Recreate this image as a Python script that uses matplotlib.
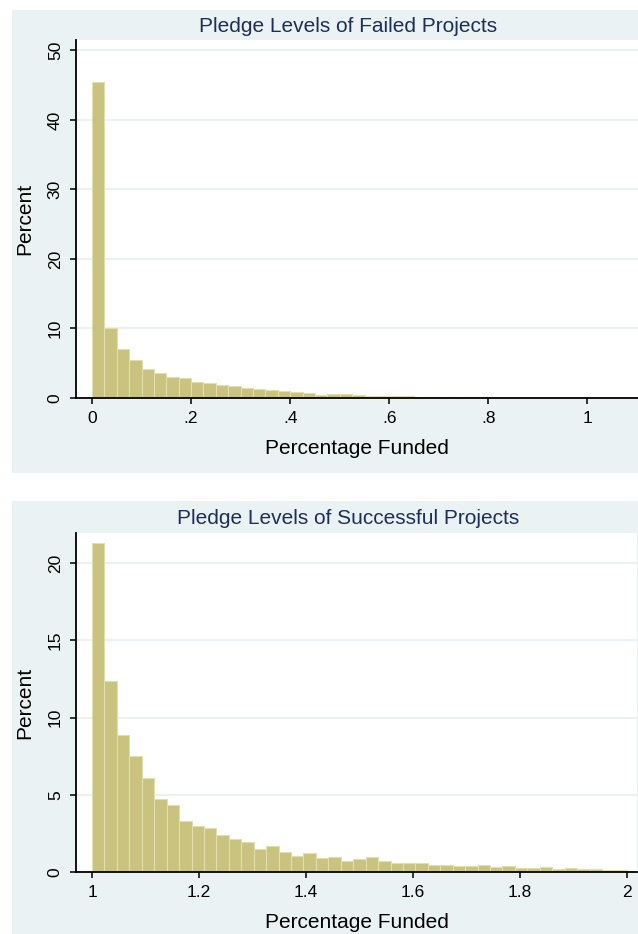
import numpy as np
import matplotlib
matplotlib.use("Agg")
import matplotlib.pyplot as plt
from matplotlib.patches import Rectangle

plt.rcParams['font.family'] = ['Liberation Sans', 'DejaVu Sans']

# histogram data (percent per bin)
failed_start = 0.0
failed_width = 0.025
failed_pct = [45.5, 10.1, 7.1, 5.4, 4.2, 3.55, 3.0, 2.9, 2.3, 2.1,
              1.8, 1.7, 1.4, 1.25, 1.1, 1.0, 0.85, 0.7, 0.45, 0.6,
              0.55, 0.42, 0.3, 0.28, 0.26, 0.22, 0.2, 0.17, 0.16, 0.15,
              0.14, 0.12, 0.07, 0.06, 0.05, 0.04, 0.03, 0.03, 0.02, 0.02,
              0.02, 0.03, 0.03, 0.02]

success_start = 1.0
success_width = 1 / 43
success_pct = [21.3, 12.35, 8.9, 7.5, 6.08, 4.74, 4.33, 3.3, 3.0, 2.84,
               2.41, 2.11, 1.94, 1.51, 1.68, 1.29, 1.05, 1.21, 0.9, 0.98,
               0.7, 0.86, 0.99, 0.72, 0.59, 0.59, 0.59, 0.48, 0.44, 0.42,
               0.41, 0.45, 0.32, 0.41, 0.26, 0.26, 0.32, 0.19, 0.26, 0.19,
               0.19, 0.13, 0.15]

failed_xticks = [0, 0.2, 0.4, 0.6, 0.8, 1.0]
failed_xlabels = ['0', '.2', '.4', '.6', '.8', '1']
failed_yticks = [0, 10, 20, 30, 40, 50]
success_xticks = [1.0, 1.2, 1.4, 1.6, 1.8, 2.0]
success_xlabels = ['1', '1.2', '1.4', '1.6', '1.8', '2']
success_yticks = [0, 5, 10, 15, 20]

W, H = 638, 934
BG = '#EAF2F3'
BAR = '#C9C37F'
EDGE = '#E2DEAE'
TITLE = '#1C2E5A'

fig = plt.figure(figsize=(W / 100, H / 100), dpi=100)
fig.patch.set_facecolor('white')


def px_rect(x0, y0, x1, y1):
    return [x0 / W, 1 - y1 / H, (x1 - x0) / W, (y1 - y0) / H]


def panel(bg, box, title, title_y, pct, start, width, xlim, ylim,
          xticks, xlabels, yticks):
    b = px_rect(*bg)
    fig.patches.append(Rectangle((b[0], b[1]), b[2], b[3], transform=fig.transFigure,
                                 facecolor=BG, edgecolor='none', zorder=-10))
    ax = fig.add_axes(px_rect(*box))
    ax.set_zorder(1)
    ax.set_facecolor('white')
    edges = start + width * np.arange(len(pct))
    ax.bar(edges, pct, width=width, align='edge', color=BAR,
           edgecolor=EDGE, linewidth=0.8, zorder=2)
    ax.set_xlim(*xlim)
    ax.set_ylim(*ylim)
    ax.set_xticks(xticks)
    ax.set_xticklabels(xlabels)
    ax.set_yticks(yticks)
    ax.set_yticklabels([str(v) for v in yticks], rotation=90, va='center')
    ax.yaxis.grid(True, color=BG, linewidth=1.5, zorder=1)
    ax.set_axisbelow(True)
    for s in ['top', 'right']:
        ax.spines[s].set_visible(False)
    for s in ['left', 'bottom']:
        ax.spines[s].set_linewidth(1.3)
        ax.spines[s].set_color('black')
    ax.tick_params(axis='both', direction='out', length=4.5, width=1.1,
                   labelsize=12.5, colors='black', pad=5)
    ax.set_xlabel('Percentage Funded', fontsize=15)
    ax.set_ylabel('Percent', fontsize=15)
    axh = box[3] - box[1]
    axw = box[2] - box[0]
    ax.xaxis.set_label_coords(0.5, -51 / axh)
    ax.xaxis.label.set_va('center')
    ax.yaxis.set_label_coords(-(box[0] - 25) / axw, 0.5)
    ax.yaxis.label.set_va('center')
    fig.text(348 / W, 1 - title_y / H, title, fontsize=15, color=TITLE,
             ha='center', va='center')
    return ax


panel((12, 10, 638, 473), (76, 40, 638, 398), 'Pledge Levels of Failed Projects', 26,
      failed_pct, failed_start, failed_width, (-0.0323, 1.102), (0, 51.5),
      failed_xticks, failed_xlabels, failed_yticks)

panel((12, 501, 638, 934), (76, 533, 637, 872), 'Pledge Levels of Successful Projects', 519,
      success_pct, success_start, success_width, (0.970, 2.019), (0, 21.95),
      success_xticks, success_xlabels, success_yticks)

fig.savefig('out.png', dpi=100, facecolor='white')
